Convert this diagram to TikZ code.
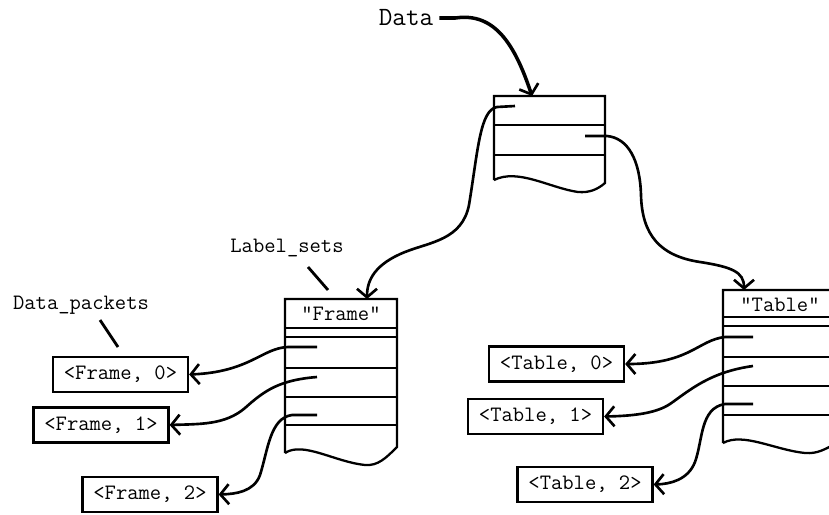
\documentclass[tikz,border=0pt]{standalone}
\usepackage{fontspec}
\usetikzlibrary{arrows.meta, positioning, calc}

\newcommand{\qt}{\symbol{34}}

\tikzset{
  ptr/.style={line width=1.5pt, -{Straight Barb[length=1.7mm, width=4mm, line width=1.5pt]}},
  rec/.style={line width=1.3pt},
  tick/.style={line width=1.6pt},
  packet/.style={draw, line width=1.3pt, minimum width=27mm, minimum height=7mm, inner sep=0pt, font=\ttfamily\fontsize{12.5}{14}\selectfont},
  lbl/.style={font=\ttfamily\fontsize{12.5}{14}\selectfont},
}

\begin{document}
\begin{tikzpicture}[x=0.2mm, y=-0.2mm]
\useasboundingbox (0,0) rectangle (829,514);
\clip (0,0) rectangle (829,514);

% Data record
\draw[rec] (494,180) -- (494,96) -- (605,96) -- (605,183)
   .. controls (598,189) and (590,193) .. (578,192)
   .. controls (550,188) and (518,168) .. (494,180);
\foreach \y in {125,155} {
   \draw[rec] (494,\y) -- (605,\y);
}
\coordinate (dtop) at (532,96);
\coordinate (d1) at (515,106);
\coordinate (d2) at (585,136);

% Label set records
\draw[rec] (285,453) -- (285,299) -- (397,299) -- (397,447)
   .. controls (386,458) and (378,466) .. (365,465)
   .. controls (335,462) and (303,441) .. (285,453);
\foreach \y in {328,337,368,397,425} {
   \draw[rec] (285,\y) -- (397,\y);
}
\node[lbl] (fhead) at (341,314) {\qt Frame\qt};
\coordinate (ftop) at (367,299);
\coordinate (f0) at (317,347);
\coordinate (f1) at (317,377);
\coordinate (f2) at (317,415);

\draw[rec] (723,443) -- (723,290) -- (837,290) -- (837,443)
   .. controls (825,449) and (818,454) .. (805,453)
   .. controls (775,450) and (743,432) .. (723,443);
\foreach \y in {317,326,357,386,415} {
   \draw[rec] (723,\y) -- (837,\y);
}
\node[lbl] (thead) at (780,305) {\qt Table\qt};
\coordinate (ttop) at (744,290);
\coordinate (t0) at (753,337);
\coordinate (t1) at (753,366);
\coordinate (t2) at (753,404);

% Data packets
\node[packet] (pf0) at (120.5,374.5) {<Frame, 0>};
\node[packet] (pf1) at (101,425) {<Frame, 1>};
\node[packet] (pf2) at (150,494.5) {<Frame, 2>};
\node[packet] (pt0) at (556.5,364) {<Table, 0>};
\node[packet] (pt1) at (535.5,416.5) {<Table, 1>};
\node[packet] (pt2) at (585,484.5) {<Table, 2>};

% Labels
\node[font=\ttfamily\fontsize{15}{17}\selectfont] (data) at (406,18) {Data};
\node[lbl] (lsets) at (287,248) {Label\_sets};
\node[lbl] (dpack) at (81,305) {Data\_packets};
\coordinate (lsA) at (308,267);
\coordinate (lsB) at (328,290);
\coordinate (dpA) at (100,320);
\coordinate (dpB) at (118,347);
\draw[tick] (lsA) -- (lsB);
\draw[tick] (dpA) -- (dpB);

% Pointers
\draw[ptr, line width=2pt] (data.east) -- ++(16,0) .. controls (495,12) and (515,45) .. (dtop);
\draw[ptr] (d1) -- (497,107) .. controls (480,110) and (478,150) .. (469,205)
   .. controls (462,240) and (430,242) .. (405,252)
   .. controls (375,264) and (367,280) .. (ftop);
\draw[ptr] (d2) -- (607,136) .. controls (628,138) and (640,160) .. (641,195)
   .. controls (642,235) and (660,256) .. (700,262)
   .. controls (732,267) and (744,272) .. (ttop);

\draw[ptr] (f0) -- (288,347) .. controls (262,348) and (250,372) .. (pf0.east);
\draw[ptr] (f1) .. controls (280,380) and (265,390) .. (245,408)
   .. controls (225,425) and (200,424) .. (pf1.east);
\draw[ptr] (f2) -- (292,415) .. controls (270,418) and (268,450) .. (260,475)
   .. controls (254,492) and (235,494) .. (pf2.east);

\draw[ptr] (t0) -- (725,337) .. controls (698,340) and (690,364) .. (pt0.east);
\draw[ptr] (t1) .. controls (710,372) and (690,390) .. (670,404)
   .. controls (655,414) and (630,416) .. (pt1.east);
\draw[ptr] (t2) -- (725,404) .. controls (700,408) and (703,440) .. (695,462)
   .. controls (688,480) and (670,484) .. (pt2.east);
\end{tikzpicture}
\end{document}
